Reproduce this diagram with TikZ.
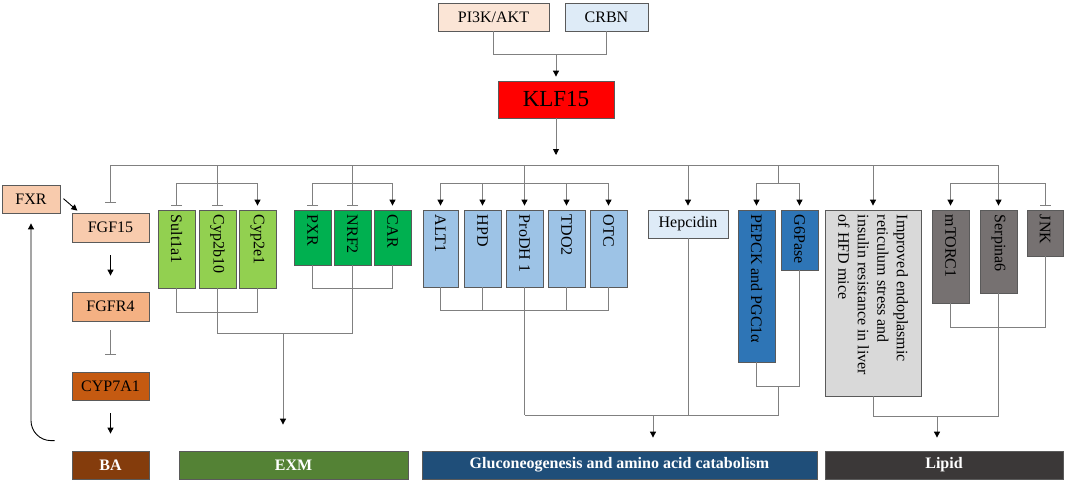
\documentclass[tikz,border=0pt]{standalone}
\usepackage{fontspec}
\setmainfont{Liberation Serif}
\usetikzlibrary{arrows.meta,calc}
\definecolor{bordergray}{HTML}{5A5A5A}
\definecolor{linegray}{HTML}{808080}
\definecolor{cPik}{HTML}{FBE5D6}
\definecolor{cCrbn}{HTML}{DEEBF7}
\definecolor{cKlf}{HTML}{FF0000}
\definecolor{cPeach}{HTML}{F8CBAD}
\definecolor{cFgfr}{HTML}{F4B183}
\definecolor{cCyp}{HTML}{C55A11}
\definecolor{cBa}{HTML}{843C0C}
\definecolor{cLgreen}{HTML}{92D050}
\definecolor{cGreen}{HTML}{00B050}
\definecolor{cLblue}{HTML}{9DC3E6}
\definecolor{cHep}{HTML}{DEEBF7}
\definecolor{cDblue}{HTML}{2E75B6}
\definecolor{cGray}{HTML}{D9D9D9}
\definecolor{cDgray}{HTML}{767171}
\definecolor{cExm}{HTML}{548235}
\definecolor{cGlu}{HTML}{1F4E79}
\definecolor{cLip}{HTML}{3B3838}
\newcommand\lab{\fontsize{16}{19.5}\selectfont}
\newcommand\barfont{\fontsize{16}{19}\selectfont\bfseries}
\tikzset{
  tipA/.tip={Triangle[color=black,length=6pt,width=6pt]},
  tipT/.tip={Bar[width=11pt]},
  box/.style={draw=bordergray, line width=0.8pt, inner sep=0pt, font=\lab},
  ln/.style={draw=linegray, line width=0.9pt},
  arr/.style={ln, -{tipA}, shorten >=4pt},
  inh/.style={ln, -{tipT}, shorten >=4pt},
  blk/.style={draw=black, line width=0.9pt, -{Triangle[length=6pt,width=6pt]}},
  vlab/.style={rotate=-90, anchor=west, inner sep=0pt, font=\lab},
  barlab/.style={font=\barfont, text=white},
}
\newcommand\mkbox[7]{%
  \pgfmathsetmacro\bxw{#5-#3}\pgfmathsetmacro\bxh{#6-#4}%
  \node[box, fill=#2, minimum width=\bxw pt, minimum height=\bxh pt] (#1) at ({(#3+#5)/2},{(#4+#6)/2}) {#7};}
\begin{document}
\begin{tikzpicture}[x=1pt,y=-1pt]
\useasboundingbox (0,0) rectangle (1065,482);
% levels
\coordinate (Ltop) at (0,54);
\coordinate (Lmain) at (0,165);
\coordinate (Lbr) at (0,183);
\coordinate (Lg1) at (0,312);
\coordinate (Lg2) at (0,288);
\coordinate (Lex) at (0,333);
\coordinate (Lb1) at (0,310);
\coordinate (Ldb) at (0,386);
\coordinate (Lglu) at (0,415);
\coordinate (Llip) at (0,416);
\coordinate (Ldg) at (0,327);
% top
\mkbox{pi3k}{cPik}{438}{3}{549}{31}{PI3K/AKT}
\mkbox{crbn}{cCrbn}{565}{3}{648}{31}{CRBN}
\mkbox{klf}{cKlf}{498}{81}{614}{118}{\fontsize{23}{26}\selectfont KLF15}
% left column
\mkbox{fxr}{cPeach}{2}{185}{60}{213}{FXR}
\mkbox{fgf15}{cPeach}{72}{213}{149}{242}{FGF15}
\mkbox{fgfr4}{cFgfr}{72}{292}{149}{321}{FGFR4}
\mkbox{cyp7a1}{cCyp}{72}{372}{149}{400}{CYP7A1}
\mkbox{ba}{cBa}{72}{451}{149}{479}{\barfont\color{white}BA}
% green groups
\mkbox{sult}{cLgreen}{158}{210}{195}{288}{}
\mkbox{cyp2b}{cLgreen}{199}{210}{236}{288}{}
\mkbox{cyp2e}{cLgreen}{239}{210}{276}{288}{}
\mkbox{pxr}{cGreen}{294}{210}{331}{265}{}
\mkbox{nrf2}{cGreen}{334}{210}{371}{265}{}
\mkbox{car}{cGreen}{374}{210}{411}{265}{}
% light blue
\mkbox{alt1}{cLblue}{423}{210}{458}{287}{}
\mkbox{hpd}{cLblue}{464}{210}{501}{287}{}
\mkbox{prodh}{cLblue}{506}{210}{543}{287}{}
\mkbox{tdo2}{cLblue}{548}{210}{585}{287}{}
\mkbox{otc}{cLblue}{590}{210}{627}{287}{}
\mkbox{hep}{cHep}{648}{210}{728}{238}{Hepcidin}
% dark blue
\mkbox{pepck}{cDblue}{738}{210}{775}{362}{}
\mkbox{g6p}{cDblue}{781}{210}{818}{270}{}
% lipid
\mkbox{imp}{cGray}{825}{210}{921}{396}{}
\mkbox{mtor}{cDgray}{932}{210}{969}{303}{}
\mkbox{serp}{cDgray}{980}{210}{1017}{293}{}
\mkbox{jnk}{cDgray}{1027}{210}{1063}{256}{}
% bottom bars
\mkbox{exm}{cExm}{179}{451}{408}{479}{\barfont\color{white}EXM}
\mkbox{glu}{cGlu}{422}{451}{817}{479}{\barfont\color{white}Gluconeogenesis and amino acid catabolism}
\mkbox{lip}{cLip}{825}{451}{1063}{479}{\barfont\color{white}Lipid}
% vertical labels
\node[vlab] at ([yshift=-5pt]sult.north) {Sult1a1};
\node[vlab] at ([yshift=-5pt]cyp2b.north) {Cyp2b10};
\node[vlab] at ([yshift=-5pt]cyp2e.north) {Cyp2e1};
\node[vlab] at ([yshift=-5pt]pxr.north) {PXR};
\node[vlab] at ([yshift=-5pt]nrf2.north) {NRF2};
\node[vlab] at ([yshift=-5pt]car.north) {CAR};
\node[vlab] at ([yshift=-5pt]alt1.north) {ALT1};
\node[vlab] at ([yshift=-5pt]hpd.north) {HPD};
\node[vlab] at ([yshift=-5pt]prodh.north) {ProDH 1};
\node[vlab] at ([yshift=-5pt]tdo2.north) {TDO2};
\node[vlab] at ([yshift=-5pt]otc.north) {OTC};
\node[vlab] at ([yshift=-5pt]pepck.north) {PEPCK and PGC1α};
\node[vlab] at ([yshift=-5pt]g6p.north) {G6Pase};
\node[vlab, align=left] at ([yshift=-5pt]imp.north) {Improved endoplasmic\\reticulum stress and\\insulin resistance in liver\\of HFD mice};
\node[vlab] at ([yshift=-5pt]mtor.north) {mTORC1};
\node[vlab] at ([yshift=-5pt]serp.north) {Serpina6};
\node[vlab] at ([yshift=-5pt]jnk.north) {JNK};
% top connectors
\draw[ln] (pi3k.south) -- (pi3k.south |- Ltop) -- (crbn.south |- Ltop) -- (crbn.south);
\draw[arr] (klf.north |- Ltop) -- (klf.north);
\draw[arr, shorten >=10pt] (klf.south) -- (klf.south |- Lmain);
\draw[ln] (fgf15.north |- Lmain) -- (serp.north |- Lmain);
% FGF15
\draw[inh, shorten >=10pt] (fgf15.north |- Lmain) -- (fgf15.north);
% green 1
\draw[inh] (cyp2b.north |- Lmain) -- (cyp2b.north);
\draw[ln, {tipT}-{tipA}, shorten <=4pt, shorten >=4pt] (sult.north) -- (sult.north |- Lbr) -- (cyp2e.north |- Lbr) -- (cyp2e.north);
\draw[ln] (sult.south) -- (sult.south |- Lg1) -- (cyp2e.south |- Lg1) -- (cyp2e.south);
% green 2
\draw[inh] (nrf2.north |- Lmain) -- (nrf2.north);
\draw[ln, {tipT}-{tipA}, shorten <=4pt, shorten >=4pt] (pxr.north) -- (pxr.north |- Lbr) -- (car.north |- Lbr) -- (car.north);
\draw[ln] (pxr.south) -- (pxr.south |- Lg2) -- (car.south |- Lg2) -- (car.south);
\draw[ln] (cyp2b.south) -- (cyp2b.south |- Lex) -- (nrf2.south |- Lex) -- (nrf2.south);
\coordinate (exA) at (283,333);
\draw[arr, shorten >=26pt] (exA) -- (exA |- exm.north);
% light blue
\draw[arr] (prodh.north |- Lmain) -- (prodh.north);
\draw[ln] (alt1.north |- Lbr) -- (otc.north |- Lbr);
\foreach \n in {alt1,hpd,tdo2,otc} \draw[arr] (\n.north |- Lbr) -- (\n.north);
\draw[ln] (alt1.south) -- (alt1.south |- Lb1) -- (otc.south |- Lb1) -- (otc.south);
\foreach \n in {hpd,tdo2} \draw[ln] (\n.south) -- (\n.south |- Lb1);
\draw[ln] (prodh.south) -- (prodh.south |- Lglu);
% hepcidin
\draw[arr] (hep.north |- Lmain) -- (hep.north);
\draw[ln] (hep.south) -- (hep.south |- Lglu);
% dark blue
\coordinate (dbJ) at ($(pepck.south |- Ldb)!0.5!(g6p.south |- Ldb)$);
\draw[ln] (dbJ |- Lmain) -- (dbJ |- Lbr);
\draw[ln] (pepck.north |- Lbr) -- (g6p.north |- Lbr);
\draw[arr] (pepck.north |- Lbr) -- (pepck.north);
\draw[arr] (g6p.north |- Lbr) -- (g6p.north);
\draw[ln] (pepck.south) -- (pepck.south |- Ldb) -- (g6p.south |- Ldb) -- (g6p.south);
\draw[ln] (dbJ) -- (dbJ |- Lglu) -- (prodh.south |- Lglu);
\coordinate (gluA) at (653,415);
\draw[arr, shorten >=13pt] (gluA) -- (gluA |- glu.north);
% lipid
\draw[arr] (imp.north |- Lmain) -- (imp.north);
\draw[arr] (serp.north |- Lmain) -- (serp.north);
\draw[ln, {tipA}-{tipT}, shorten <=4pt, shorten >=4pt] (mtor.north) -- (mtor.north |- Lbr) -- (jnk.north |- Lbr) -- (jnk.north);
\draw[ln] (mtor.south) -- (mtor.south |- Ldg) -- (jnk.south |- Ldg) -- (jnk.south);
\draw[ln] (imp.south) -- (imp.south |- Llip) -- (serp.south |- Llip) -- (serp.south);
\coordinate (lipA) at (937,416);
\draw[arr, shorten >=13pt] (lipA) -- (lipA |- lip.north);
% left column
\draw[blk, shorten <=4pt, shorten >=3pt] ([yshift=3pt]fxr.east) -- ([xshift=8pt]fgf15.north west);
\draw[blk, shorten <=13pt, shorten >=16pt] (fgf15.south) -- (fgfr4.north);
\draw[inh, shorten <=9pt, shorten >=17pt] (fgfr4.south) -- (cyp7a1.north);
\draw[blk, shorten <=13pt, shorten >=17pt] (cyp7a1.south) -- (ba.north);
\draw[blk, rounded corners=20pt, shorten >=10pt] ([xshift=-17pt,yshift=10pt]ba.north west) -| (fxr.south);
\end{tikzpicture}
\end{document}
